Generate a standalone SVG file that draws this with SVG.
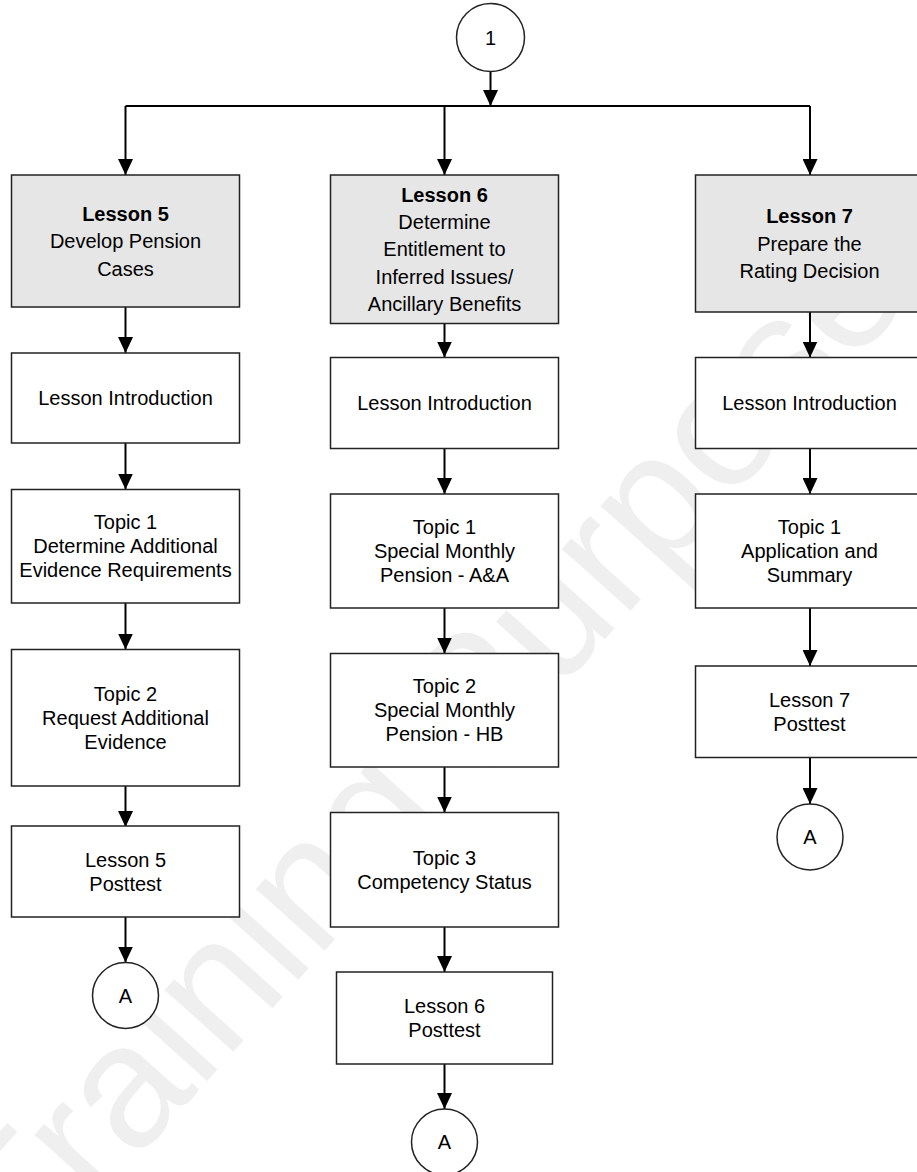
<svg xmlns="http://www.w3.org/2000/svg" width="917" height="1172" viewBox="0 0 917 1172">
<style>
.bx{fill:#fff;stroke:#222;stroke-width:1.5}
.hd{fill:#e6e6e6;stroke:#222;stroke-width:1.5}
.t{font-family:"Liberation Sans",Arial,sans-serif;font-size:20px;text-anchor:middle;fill:#000}
.b{font-weight:bold}
.c{stroke:#000;stroke-width:2;fill:none}
.ca{stroke:#000;stroke-width:2;fill:none;marker-end:url(#ah)}
.wm{font-family:"Liberation Sans",Arial,sans-serif;font-size:175px;fill:#efefef}
</style>
<defs>
<marker id="ah" markerUnits="userSpaceOnUse" markerWidth="16" markerHeight="15" refX="16" refY="7.5" orient="auto">
<path d="M0,0 L16,7.5 L0,15 Z" fill="#000"/>
</marker>
</defs>
<rect width="917" height="1172" fill="#fff"/>
<text class="wm" transform="translate(28,1280) rotate(-48)">Training Purposes</text>

<g id="connectors">
<path class="ca" d="M490.5,72 V106"/>
<path class="c" d="M125.5,106 H810"/>
<path class="ca" d="M125.5,106 V175"/>
<path class="ca" d="M444.5,106 V175"/>
<path class="ca" d="M810,106 V175"/>
<path class="ca" d="M125.5,307 V353"/>
<path class="ca" d="M125.5,443 V489.5"/>
<path class="ca" d="M125.5,603 V649.5"/>
<path class="ca" d="M125.5,786 V827"/>
<path class="ca" d="M125.5,917 V962.5"/>
<path class="ca" d="M444.5,323.5 V357.5"/>
<path class="ca" d="M444.5,448.5 V494"/>
<path class="ca" d="M444.5,608 V653.5"/>
<path class="ca" d="M444.5,767 V812.5"/>
<path class="ca" d="M444.5,927 V972"/>
<path class="ca" d="M444.5,1064 V1109"/>
<path class="ca" d="M810,312 V357.5"/>
<path class="ca" d="M810,448.5 V494"/>
<path class="ca" d="M810,608 V666"/>
<path class="ca" d="M810,757.5 V804"/>
</g>

<g id="start1">
<circle cx="490.5" cy="37.5" r="34" class="bx"/>
<text class="t" x="490.5" y="44.5">1</text>
</g>

<g id="lesson5">
<rect class="hd" x="11.5" y="175" width="228" height="132"/>
<text class="t" x="125.5" y="220.5"><tspan class="b">Lesson 5</tspan><tspan x="125.5" y="248">Develop Pension</tspan><tspan x="125.5" y="275.5">Cases</tspan></text>
</g>
<g id="l5intro">
<rect class="bx" x="11.5" y="353" width="228" height="90"/>
<text class="t" x="125.5" y="405">Lesson Introduction</text>
</g>
<g id="l5topic1">
<rect class="bx" x="11.5" y="489.5" width="228" height="113.5"/>
<text class="t" x="125.5" y="529">Topic 1<tspan x="125.5" y="553">Determine Additional</tspan><tspan x="125.5" y="577">Evidence Requirements</tspan></text>
</g>
<g id="l5topic2">
<rect class="bx" x="11.5" y="649.5" width="228" height="136.5"/>
<text class="t" x="125.5" y="700.75">Topic 2<tspan x="125.5" y="724.75">Request Additional</tspan><tspan x="125.5" y="748.75">Evidence</tspan></text>
</g>
<g id="l5post">
<rect class="bx" x="11.5" y="826" width="228" height="91"/>
<text class="t" x="125.5" y="866.5">Lesson 5<tspan x="125.5" y="890.5">Posttest</tspan></text>
</g>
<g id="l5A">
<circle cx="125.5" cy="995.5" r="33" class="bx"/>
<text class="t" x="125.5" y="1002.5">A</text>
</g>

<g id="lesson6">
<rect class="hd" x="330.5" y="175" width="228" height="148.5"/>
<text class="t" x="444.5" y="201.6"><tspan class="b">Lesson 6</tspan><tspan x="444.5" y="228.9">Determine</tspan><tspan x="444.5" y="256.2">Entitlement to</tspan><tspan x="444.5" y="283.5">Inferred Issues/</tspan><tspan x="444.5" y="310.8">Ancillary Benefits</tspan></text>
</g>
<g id="l6intro">
<rect class="bx" x="330.5" y="357.5" width="228" height="91"/>
<text class="t" x="444.5" y="410">Lesson Introduction</text>
</g>
<g id="l6topic1">
<rect class="bx" x="330.5" y="494" width="228" height="114"/>
<text class="t" x="444.5" y="534">Topic 1<tspan x="444.5" y="558">Special Monthly</tspan><tspan x="444.5" y="582">Pension - A&amp;A</tspan></text>
</g>
<g id="l6topic2">
<rect class="bx" x="330.5" y="653.5" width="228" height="113.5"/>
<text class="t" x="444.5" y="693.25">Topic 2<tspan x="444.5" y="717.25">Special Monthly</tspan><tspan x="444.5" y="741.25">Pension - HB</tspan></text>
</g>
<g id="l6topic3">
<rect class="bx" x="330.5" y="812.5" width="228" height="114.5"/>
<text class="t" x="444.5" y="864.75">Topic 3<tspan x="444.5" y="888.75">Competency Status</tspan></text>
</g>
<g id="l6post">
<rect class="bx" x="336.5" y="972" width="216" height="92"/>
<text class="t" x="444.5" y="1013">Lesson 6<tspan x="444.5" y="1037">Posttest</tspan></text>
</g>
<g id="l6A">
<circle cx="444.5" cy="1142" r="33" class="bx"/>
<text class="t" x="444.5" y="1149">A</text>
</g>

<g id="lesson7">
<rect class="hd" x="695.5" y="175" width="228" height="137"/>
<text class="t" x="809.5" y="223"><tspan class="b">Lesson 7</tspan><tspan x="809.5" y="250.5">Prepare the</tspan><tspan x="809.5" y="278">Rating Decision</tspan></text>
</g>
<g id="l7intro">
<rect class="bx" x="695.5" y="357.5" width="228" height="91"/>
<text class="t" x="809.5" y="410">Lesson Introduction</text>
</g>
<g id="l7topic1">
<rect class="bx" x="695.5" y="494" width="228" height="114"/>
<text class="t" x="809.5" y="534">Topic 1<tspan x="809.5" y="558">Application and</tspan><tspan x="809.5" y="582">Summary</tspan></text>
</g>
<g id="l7post">
<rect class="bx" x="695.5" y="666" width="228" height="91.5"/>
<text class="t" x="809.5" y="706.75">Lesson 7<tspan x="809.5" y="730.75">Posttest</tspan></text>
</g>
<g id="l7A">
<circle cx="810" cy="837" r="33" class="bx"/>
<text class="t" x="810" y="844">A</text>
</g>
</svg>
